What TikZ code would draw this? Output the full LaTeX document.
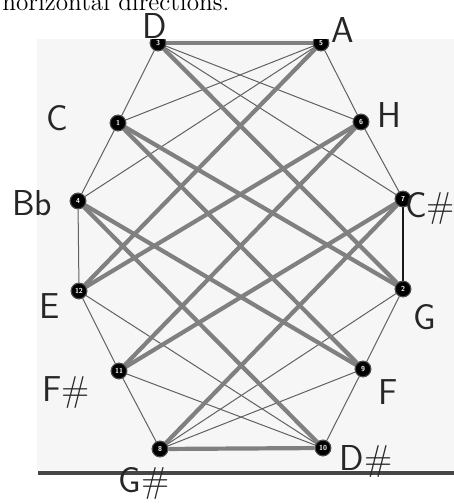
\documentclass[tikz,border=0pt]{standalone}
\usepackage{fontspec}
\begin{document}
\begin{tikzpicture}[x=0.5pt,y=-0.5pt,
  vtx/.style={circle,fill=black,draw=black!70,line width=0.5pt,minimum size=7.8pt,inner sep=0pt,text=white,font=\sffamily\bfseries\fontsize{3.6}{4}\selectfont},
  weak/.style={draw=black!62,line width=0.5pt},
  fifth/.style={draw=black!50,line width=2.1pt},
  lab/.style={font=\sffamily\fontsize{18}{21}\selectfont,inner sep=0pt,text=black!85}]
\useasboundingbox (0,0) rectangle (454,504);
% photographed page background
\fill[gray!7] (37,39) rectangle (454,470);
\begin{scope}
\clip (37,39) rectangle (454,470);
\node[vtx] (D)  at (158,43) {3};
\node[vtx] (A)  at (321,43) {5};
\node[vtx] (C)  at (118,123) {1};
\node[vtx] (H)  at (361,122) {6};
\node[vtx] (Bb) at (78,201) {4};
\node[vtx] (Cs) at (403,199) {7};
\node[vtx] (E)  at (79,291) {12};
\node[vtx] (G)  at (403,289) {2};
\node[vtx] (Fs) at (119,371) {11};
\node[vtx] (F)  at (363,369) {9};
\node[vtx] (Gs) at (160,449) {8};
\node[vtx] (Ds) at (323,448) {10};
% thin edges: outer ring
\draw[weak] (D) -- (C);
\draw[weak] (C) -- (Bb);
\draw[weak] (Bb) -- (E);
\draw[weak] (E) -- (Fs);
\draw[weak] (Fs) -- (Gs);
\draw[weak] (Ds) -- (F);
\draw[weak] (F) -- (G);
\draw[weak,draw=black!90,line width=0.8pt] (G) -- (Cs);
\draw[weak] (Cs) -- (H);
\draw[weak] (H) -- (A);
% thin edges: inner
\draw[weak] (D) -- (H);
\draw[weak] (D) -- (Cs);
\draw[weak] (A) -- (C);
\draw[weak] (A) -- (Bb);
\draw[weak] (E) -- (Ds);
\draw[weak] (Fs) -- (Ds);
\draw[weak] (Gs) -- (F);
\draw[weak] (Gs) -- (G);
% thick edges: circle of fifths
\draw[fifth] (D) -- (A);
\draw[fifth] (D) -- (G);
\draw[fifth] (A) -- (E);
\draw[fifth] (C) -- (G);
\draw[fifth] (C) -- (F);
\draw[fifth] (H) -- (E);
\draw[fifth] (H) -- (Fs);
\draw[fifth] (Bb) -- (F);
\draw[fifth] (Bb) -- (Ds);
\draw[fifth] (Cs) -- (Fs);
\draw[fifth] (Cs) -- (Gs);
\draw[fifth] (Gs) -- (Ds);
% redraw vertices on top
\foreach \n/\t in {D/3,A/5,C/1,H/6,Bb/4,Cs/7,E/12,G/2,Fs/11,F/9,Gs/8,Ds/10}
  \node[vtx] at (\n) {\t};
\end{scope}
% bottom rule of the page
\draw[line width=1.7pt,black!72] (38,473) -- (454,473);
% caption fragment
\node[anchor=base west,inner sep=0pt,font=\fontsize{12.6}{15}\selectfont] (cap) at (2,10) {horizontal directions.};
% handwritten note names
\node[lab] (lD)  at (155,26) {D};
\node[lab] (lA)  at (343,30) {A};
\node[lab] (lC)  at (57,118) {C};
\node[lab] (lH)  at (389,115) {H};
\node[lab] (lBb) at (32,203) {Bb};
\node[lab] (lCs) at (430,208) {C\#};
\node[lab] (lE)  at (50,306) {E};
\node[lab] (lG)  at (425,317) {G};
\node[lab] (lFs) at (66,393) {F\#};
\node[lab] (lF)  at (388,392) {F};
\node[lab] (lGs) at (144,483) {G\#};
\node[lab] (lDs) at (366,462) {D\#};
\end{tikzpicture}
\end{document}
